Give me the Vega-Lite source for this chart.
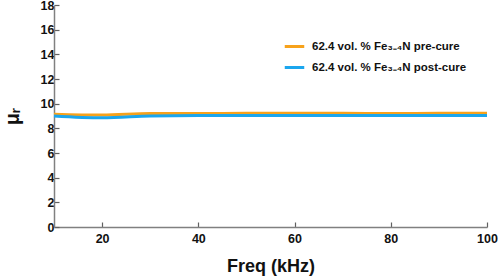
{
  "$schema": "https://vega.github.io/schema/vega-lite/v6.json",
  "width": 433,
  "height": 222,
  "autosize": "none",
  "padding": {"left": 54, "top": 5, "right": 11, "bottom": 51},
  "background": "white",
  "config": {
    "view": {"stroke": null},
    "font": "Liberation Sans",
    "axis": {"grid": false, "domainColor": "#808080", "tickColor": "#606060", "domainWidth": 1.5, "tickWidth": 1.2, "labelFlush": false, "labelFont": "Liberation Sans", "labelFontWeight": "bold", "labelFontSize": 12.5, "labelColor": "#111", "titleFont": "Liberation Sans", "titleFontWeight": "bold", "titleColor": "#111"}
  },
  "data": {
    "values": [
      {"f": 10, "mu": 9.15, "s": "62.4 vol. % Fe₃₋₄N pre-cure"},
      {"f": 20, "mu": 9.08, "s": "62.4 vol. % Fe₃₋₄N pre-cure"},
      {"f": 30, "mu": 9.2, "s": "62.4 vol. % Fe₃₋₄N pre-cure"},
      {"f": 40, "mu": 9.2, "s": "62.4 vol. % Fe₃₋₄N pre-cure"},
      {"f": 50, "mu": 9.22, "s": "62.4 vol. % Fe₃₋₄N pre-cure"},
      {"f": 60, "mu": 9.22, "s": "62.4 vol. % Fe₃₋₄N pre-cure"},
      {"f": 70, "mu": 9.22, "s": "62.4 vol. % Fe₃₋₄N pre-cure"},
      {"f": 80, "mu": 9.2, "s": "62.4 vol. % Fe₃₋₄N pre-cure"},
      {"f": 90, "mu": 9.22, "s": "62.4 vol. % Fe₃₋₄N pre-cure"},
      {"f": 100, "mu": 9.22, "s": "62.4 vol. % Fe₃₋₄N pre-cure"},
      {"f": 10, "mu": 9.0, "s": " 62.4 vol. % Fe₃₋₄N post-cure"},
      {"f": 20, "mu": 8.85, "s": " 62.4 vol. % Fe₃₋₄N post-cure"},
      {"f": 30, "mu": 9.0, "s": " 62.4 vol. % Fe₃₋₄N post-cure"},
      {"f": 40, "mu": 9.05, "s": " 62.4 vol. % Fe₃₋₄N post-cure"},
      {"f": 50, "mu": 9.05, "s": " 62.4 vol. % Fe₃₋₄N post-cure"},
      {"f": 60, "mu": 9.05, "s": " 62.4 vol. % Fe₃₋₄N post-cure"},
      {"f": 70, "mu": 9.05, "s": " 62.4 vol. % Fe₃₋₄N post-cure"},
      {"f": 80, "mu": 9.05, "s": " 62.4 vol. % Fe₃₋₄N post-cure"},
      {"f": 90, "mu": 9.05, "s": " 62.4 vol. % Fe₃₋₄N post-cure"},
      {"f": 100, "mu": 9.05, "s": " 62.4 vol. % Fe₃₋₄N post-cure"}
    ]
  },
  "mark": {"type": "line", "strokeWidth": 3, "interpolate": "monotone"},
  "encoding": {
    "x": {"field": "f", "type": "quantitative", "title": "Freq (kHz)", "scale": {"domain": [10, 100], "nice": false},
      "axis": {"values": [20, 40, 60, 80, 100], "tickSize": -5, "labelPadding": 10, "titleFontSize": 18, "titlePadding": 13}},
    "y": {"field": "mu", "type": "quantitative", "title": "μᵣ", "scale": {"domain": [0, 18], "nice": false},
      "axis": {"values": [0, 2, 4, 6, 8, 10, 12, 14, 16, 18], "tickSize": -5, "labelPadding": 5, "titleFontSize": 20, "titlePadding": 18}},
    "color": {"field": "s", "type": "nominal", "sort": ["62.4 vol. % Fe₃₋₄N pre-cure", " 62.4 vol. % Fe₃₋₄N post-cure"],
      "scale": {"range": ["#F7A21B", "#1BA6EE"]},
      "legend": {"title": null, "orient": "none", "legendX": 229, "legendY": 30, "symbolType": "stroke", "symbolStrokeWidth": 3, "symbolSize": 380, "labelFontSize": 11.5, "labelFontWeight": "bold", "labelColor": "#111", "labelOffset": 6, "rowPadding": 3}}
  }
}
